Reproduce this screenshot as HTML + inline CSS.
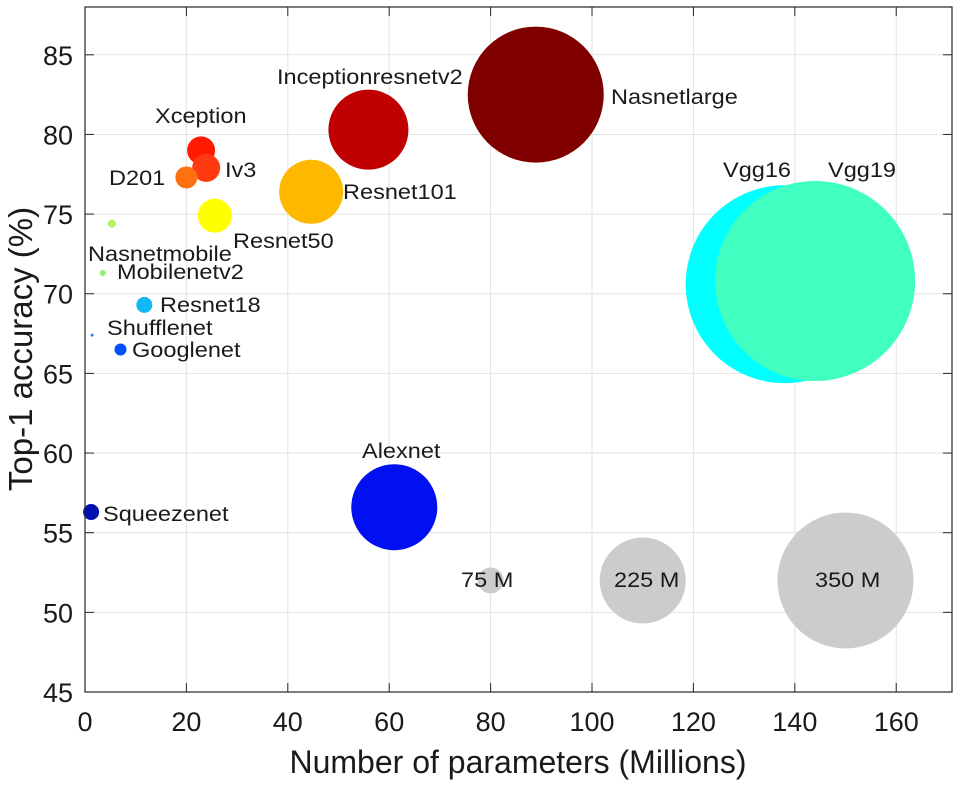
<!DOCTYPE html>
<html><head><meta charset="utf-8"><style>
body{margin:0;background:#fff}
svg text{font-family:"Liberation Sans",Arial,sans-serif;fill:#1a1a1a}
</style></head><body>
<svg id="chart" width="964" height="782" xmlns="http://www.w3.org/2000/svg"></svg>
<script>
const names=["Vgg16","Vgg19","Nasnetlarge","Inceptionresnetv2","Alexnet","Resnet101","Resnet50","Xception","Iv3","D201","Nasnetmobile","Mobilenetv2","Resnet18","Shufflenet","Googlenet","Squeezenet","75 M","225 M","350 M"];
const params=[138,144,88.9,55.9,61,44.6,25.6,22.9,23.9,20,5.3,3.5,11.7,1.4,7,1.2,80,110,150];
const accuracy=[70.6,70.8,82.5,80.3,56.6,76.4,74.9,79.0,77.9,77.3,74.4,71.3,69.3,67.4,66.5,56.3,52,52,52];
const sizes=[505,510,350,210,225,170,95,80,80,65,30,25,50,15,40,50,75,225,350];
const colors=["#00ffff","#40ffc0","#800000","#c00000","#0010f0","#ffb800","#ffff00","#ff1a00","#ff3a10","#ff7010","#b8f060","#90f070","#10b8f8","#2080ff","#0050ff","#0010b0","#cccccc","#cccccc","#cccccc"];
const labelPos=[[723,170],[828,170],[611,97],[277,77],[362,451],[343,192],[233,241],[155,116],[225,170],[109,178],[88,254],[117,272],[160,305],[107,328],[132,350],[103,514],[461,580],[614,580],[815,580]];
const xTicks=[0,20,40,60,80,100,120,140,160];
const yTicks=[45,50,55,60,65,70,75,80,85];
const X0=85,X1=952,Y0=692,Y1=7,XMAX=171,YMIN=45,YMAX=88;
const xs=v=>X0+v*(X1-X0)/XMAX;
const ys=v=>Y0-(v-YMIN)*(Y0-Y1)/(YMAX-YMIN);
const rs=s=>Math.max(1.5,0.2*s-2);
const svg=document.getElementById('chart');
const NS="http://www.w3.org/2000/svg";
function mk(t,a,p){const e=document.createElementNS(NS,t);for(const k in a)e.setAttribute(k,a[k]);(p||svg).appendChild(e);return e;}
function stretch(t,f){const w=t.getComputedTextLength();t.setAttribute('textLength',w*f);t.setAttribute('lengthAdjust','spacingAndGlyphs');}
const grid=mk('g',{});


xTicks.forEach(v=>{mk('line',{x1:xs(v),x2:xs(v),y1:Y1,y2:Y0,stroke:'#e3e3e3'},grid);});
yTicks.forEach(v=>{mk('line',{x1:X0,x2:X1,y1:ys(v),y2:ys(v),stroke:'#e3e3e3'},grid);});
const bub=mk('g',{});


names.forEach((n,i)=>{
 const c=mk('circle',{cx:xs(params[i]),cy:ys(accuracy[i]),r:rs(sizes[i]),fill:colors[i]},bub);
 
 
});
names.forEach((n,i)=>{
 const t=mk('text',{x:labelPos[i][0],y:labelPos[i][1]+7,'font-size':21});
 t.textContent=n;
 
 
 stretch(t,1.12);
});
const ax=mk('g',{});


mk('rect',{x:X0,y:Y1,width:X1-X0,height:Y0-Y1,fill:'none',stroke:'#262626','stroke-width':1.2},ax);
xTicks.forEach(v=>{
 mk('line',{x1:xs(v),x2:xs(v),y1:Y0,y2:Y0-9,stroke:'#262626'},ax);
 mk('line',{x1:xs(v),x2:xs(v),y1:Y1,y2:Y1+9,stroke:'#262626'},ax);
 const t=mk('text',{x:xs(v),y:731,'font-size':27,'text-anchor':'middle'},ax);
 t.textContent=v;
 
 
});
yTicks.forEach(v=>{
 mk('line',{x1:X0,x2:X0+9,y1:ys(v),y2:ys(v),stroke:'#262626'},ax);
 mk('line',{x1:X1,x2:X1-9,y1:ys(v),y2:ys(v),stroke:'#262626'},ax);
 const t=mk('text',{x:73,y:ys(v)+10,'font-size':27,'text-anchor':'end'},ax);
 t.textContent=v;
 
 
});
const xl=mk('text',{x:518,y:773,'font-size':32,'text-anchor':'middle'});
xl.textContent="Number of parameters (Millions)";


const yl=mk('text',{x:0,y:0,'font-size':33,'text-anchor':'middle',transform:'translate(32,349) rotate(-90)'});
yl.textContent="Top-1 accuracy (%)";


</script>
</body></html>
